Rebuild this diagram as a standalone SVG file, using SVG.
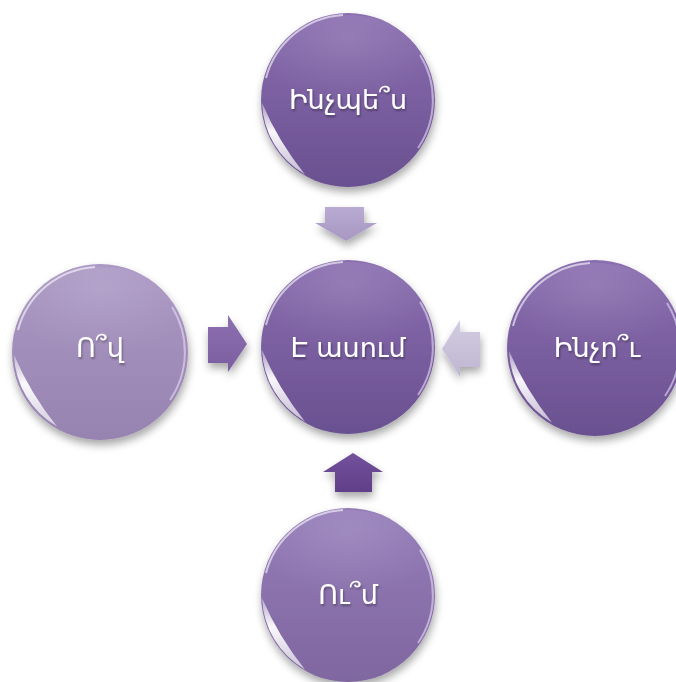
<svg xmlns="http://www.w3.org/2000/svg" width="676" height="682" viewBox="0 0 676 682">
<style>
.lbl{font-family:"DejaVu Sans","Noto Sans",sans-serif;font-size:27px;fill:#ffffff;text-anchor:middle;filter:url(#ts)}
.rim{fill:none;stroke:#ffffff;stroke-opacity:0.6;stroke-width:2}
.rimr{fill:none;stroke:#e8def5;stroke-opacity:0.6;stroke-width:2}
.cres{fill:url(#crg)}
.glare{fill:url(#glr)}
.bg{fill:#ffffff}
</style>
<defs>
<linearGradient id="gDark" x1="0" y1="0" x2="0" y2="1">
<stop offset="0" stop-color="#8a6eb0"/><stop offset="1" stop-color="#6a5090"/>
</linearGradient>
<linearGradient id="gLight" x1="0" y1="0" x2="0" y2="1">
<stop offset="0" stop-color="#ab98c4"/><stop offset="1" stop-color="#9683b0"/>
</linearGradient>
<linearGradient id="gMid" x1="0" y1="0" x2="0" y2="1">
<stop offset="0" stop-color="#957db9"/><stop offset="1" stop-color="#7f669f"/>
</linearGradient>
<linearGradient id="crg" x1="0" y1="0" x2="0" y2="1">
<stop offset="0" stop-color="#ffffff" stop-opacity="0.4"/><stop offset="0.4" stop-color="#ffffff" stop-opacity="0.95"/><stop offset="1" stop-color="#ffffff" stop-opacity="0.6"/>
</linearGradient>
<radialGradient id="glr" cx="0.5" cy="0.2" r="0.6">
<stop offset="0" stop-color="#ffffff" stop-opacity="0.12"/><stop offset="1" stop-color="#ffffff" stop-opacity="0"/>
</radialGradient>
<linearGradient id="aTop" x1="0" y1="0" x2="0" y2="1">
<stop offset="0" stop-color="#b9abd2"/><stop offset="1" stop-color="#a797c2"/>
</linearGradient>
<linearGradient id="aLeft" x1="0" y1="0" x2="0" y2="1">
<stop offset="0" stop-color="#8d70b0"/><stop offset="1" stop-color="#7a5ea0"/>
</linearGradient>
<linearGradient id="aRight" x1="0" y1="0" x2="0" y2="1">
<stop offset="0" stop-color="#d2cce0"/><stop offset="1" stop-color="#bfb6d2"/>
</linearGradient>
<linearGradient id="aBot" x1="0" y1="0" x2="0" y2="1">
<stop offset="0" stop-color="#73529c"/><stop offset="1" stop-color="#603f88"/>
</linearGradient>
<filter id="sh" x="-20%" y="-20%" width="140%" height="150%">
<feGaussianBlur in="SourceAlpha" stdDeviation="4"/>
<feOffset dx="1" dy="5" result="b"/>
<feComponentTransfer><feFuncA type="linear" slope="0.35"/></feComponentTransfer>
<feMerge><feMergeNode/><feMergeNode in="SourceGraphic"/></feMerge>
</filter>
<filter id="ts" x="-10%" y="-20%" width="120%" height="150%">
<feGaussianBlur in="SourceAlpha" stdDeviation="1"/>
<feOffset dx="1" dy="2"/>
<feComponentTransfer><feFuncA type="linear" slope="0.35"/></feComponentTransfer>
<feMerge><feMergeNode/><feMergeNode in="SourceGraphic"/></feMerge>
</filter>
<g id="gloss">
<ellipse class="glare" cx="0" cy="-30" rx="80" ry="55"/>
<path class="cres" d="M -85.95 3 A 86 86 0 0 0 -43 74.5 A 300 300 0 0 1 -85.95 3 Z"/>
<path class="rim" d="M -82 -22 A 85 85 0 0 1 -5 -85"/>
<path class="rimr" d="M 72 -45 A 85 85 0 0 1 70 48"/>
</g>
</defs>
<rect class="bg" width="676" height="682"/>
<g id="connectors">
<polygon points="325,207 364,207 364,223 377,223 346,241 315,223 325,223" fill="url(#aTop)" filter="url(#sh)"/>
<polygon points="208,327 228,327 228,315 247,344 228,372 228,363 208,363" fill="url(#aLeft)" filter="url(#sh)"/>
<polygon points="480,332 460,332 460,320 442,349 460,377 460,367 480,367" fill="url(#aRight)" filter="url(#sh)"/>
<polygon points="353,453 383,472 372,472 372,492 335,492 335,472 323,472" fill="url(#aBot)" filter="url(#sh)"/>
</g>
<g id="node-top">
<circle cx="348" cy="100" r="87" fill="url(#gDark)" filter="url(#sh)"/>
<use href="#gloss" x="348" y="100"/>
<text class="lbl" x="348" y="109">Ինչպե՞ս</text>
</g>
<g id="node-center">
<circle cx="348" cy="347" r="87" fill="url(#gDark)" filter="url(#sh)"/>
<use href="#gloss" x="348" y="347"/>
<text class="lbl" x="348" y="357">Է ասում</text>
</g>
<g id="node-left">
<circle cx="100" cy="352" r="88" fill="url(#gLight)" filter="url(#sh)"/>
<use href="#gloss" x="100" y="352"/>
<text class="lbl" x="100" y="357">Ո՞վ</text>
</g>
<g id="node-right">
<circle cx="595" cy="348" r="88" fill="url(#gDark)" filter="url(#sh)"/>
<use href="#gloss" x="595" y="348"/>
<text class="lbl" x="597" y="357">Ինչո՞ւ</text>
</g>
<g id="node-bottom">
<circle cx="348" cy="595" r="87" fill="url(#gMid)" filter="url(#sh)"/>
<use href="#gloss" x="348" y="595"/>
<text class="lbl" x="348" y="604">Ու՞մ</text>
</g>
</svg>
